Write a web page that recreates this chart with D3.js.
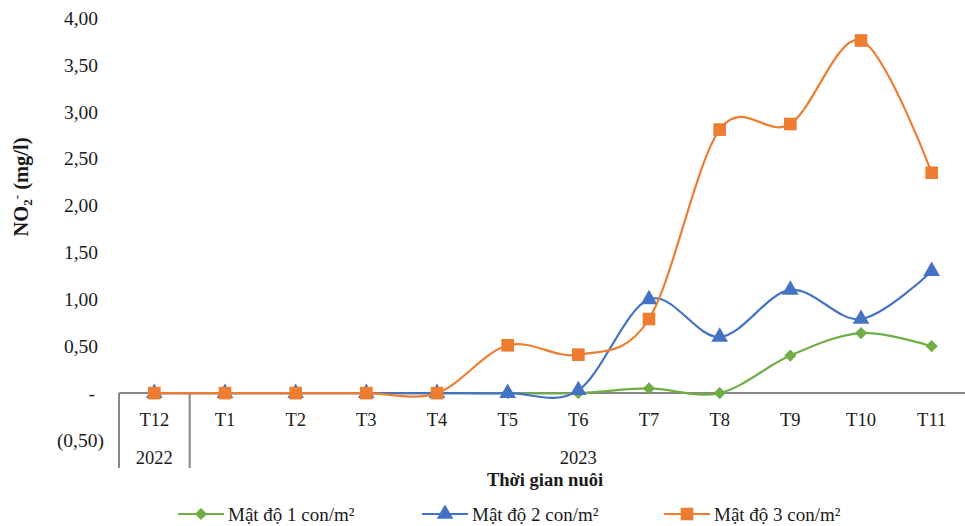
<!DOCTYPE html>
<html>
<head>
<meta charset="utf-8">
<script src="https://cdn.jsdelivr.net/npm/d3@7"></script>
<style>
  html, body { margin: 0; padding: 0; background: #fff; }
  svg, svg text { font-family: "Liberation Serif", "Times New Roman", "DejaVu Serif", serif; }
</style>
</head>
<body>
<svg id="chart" width="965" height="526"></svg>
<script>
// Months of the rearing period (Dec 2022 – Nov 2023)
const months = ["T12", "T1", "T2", "T3", "T4", "T5", "T6", "T7", "T8", "T9", "T10", "T11"];
const years = [
  { label: "2022", from: 0, to: 0 },
  { label: "2023", from: 1, to: 11 }
];

// NO2- concentration (mg/l) per stocking density
const density1 = [0, 0, 0, 0, 0, 0, 0, 0.05, 0, 0.40, 0.64, 0.50];
const density2 = [0, 0, 0, 0, 0, 0, 0.03, 1.00, 0.60, 1.10, 0.79, 1.30];
const density3 = [0, 0, 0, 0, 0, 0.51, 0.41, 0.79, 2.81, 2.87, 3.76, 2.35];

const seriesNames = ["Mật độ 1 con/m²", "Mật độ 2 con/m²", "Mật độ 3 con/m²"];
const seriesColors = ["#70AD47", "#4472C4", "#ED7D31"];
const seriesShapes = [d3.symbolDiamond2, d3.symbolTriangle, d3.symbolSquare];
const seriesSizes = [95, 120, 160];

const yTicks = [-0.5, 0, 0.5, 1, 1.5, 2, 2.5, 3, 3.5, 4];

const svg = d3.select("#chart");

const x = d3.scaleBand().domain(months).range([119, 967]);
const y = d3.scaleLinear().domain([-0.5, 4]).range([440, 18]);

const axisColor = "#878787";
const textColor = "#1a1a1a";

// Y tick labels in accounting style: "-" for zero, parentheses for negatives
const fmt = v => v.toFixed(2).replace(".", ",");
const yLab = svg.append("g").attr("font-size", 19.5).attr("fill", textColor);
yTicks.forEach(v => {
  let txt, xx;
  if (v === 0) { txt = "-"; xx = 95; }
  else if (v < 0) { txt = "(" + fmt(-v) + ")"; xx = 104; }
  else { txt = fmt(v); xx = 98; }
  yLab.append("text")
    .attr("x", xx).attr("y", y(v)).attr("dy", "0.35em")
    .attr("text-anchor", "end").text(txt);
});

// Category axis at zero
svg.append("line")
  .attr("x1", x.range()[0]).attr("x2", 965)
  .attr("y1", y(0)).attr("y2", y(0))
  .attr("stroke", axisColor).attr("stroke-width", 2);

// Year group separators
[x(months[0]), x(months[1])].forEach(sx => {
  svg.append("line")
    .attr("x1", sx).attr("x2", sx)
    .attr("y1", y(0)).attr("y2", 468)
    .attr("stroke", axisColor).attr("stroke-width", 2);
});

// Month labels
svg.append("g").attr("font-size", 18.5).attr("fill", textColor)
  .selectAll("text").data(months).join("text")
  .attr("x", d => x(d) + x.bandwidth() / 2)
  .attr("y", 426)
  .attr("text-anchor", "middle")
  .text(d => d);

// Year labels
svg.append("g").attr("font-size", 18.5).attr("fill", textColor)
  .selectAll("text").data(years).join("text")
  .attr("x", d => (x(months[d.from]) + x(months[d.to]) + x.bandwidth()) / 2)
  .attr("y", 464)
  .attr("text-anchor", "middle")
  .text(d => d.label);

// Axis titles
svg.append("text")
  .attr("x", 545).attr("y", 486)
  .attr("text-anchor", "middle")
  .attr("font-size", 18.5).attr("font-weight", "bold").attr("fill", textColor)
  .text("Thời gian nuôi");

const yt = svg.append("text")
  .attr("transform", "translate(28,187) rotate(-90)")
  .attr("text-anchor", "middle").attr("fill", textColor)
  .attr("font-size", 20.5).attr("font-weight", "bold");
yt.append("tspan").text("NO");
yt.append("tspan").attr("font-size", 13).attr("dy", 4).text("2");
yt.append("tspan").attr("font-size", 13).attr("dy", -11).text("-");
yt.append("tspan").attr("dy", 7).text(" (mg/l)");

// Series
const allSeries = [density1, density2, density3];
const line = d3.line()
  .x((d, i) => x(months[i]) + x.bandwidth() / 2)
  .y(d => y(d))
  .curve(d3.curveCardinal.tension(0));

allSeries.forEach((vals, si) => {
  const g = svg.append("g");
  g.append("path")
    .attr("d", line(vals))
    .attr("fill", "none")
    .attr("stroke", seriesColors[si])
    .attr("stroke-width", 2.2);
  g.selectAll("path.m").data(vals).join("path")
    .attr("class", "m")
    .attr("transform", (d, i) => `translate(${x(months[i]) + x.bandwidth() / 2},${y(d)})`)
    .attr("d", d3.symbol().type(seriesShapes[si]).size(seriesSizes[si]))
    .attr("fill", seriesColors[si]);
});

// Legend
const legendX = [178, 422, 664];
const legend = svg.append("g");
seriesNames.forEach((name, si) => {
  const lx = legendX[si];
  const ly = 514;
  legend.append("line")
    .attr("x1", lx).attr("x2", lx + 46)
    .attr("y1", ly).attr("y2", ly)
    .attr("stroke", seriesColors[si]).attr("stroke-width", 2.2);
  legend.append("path")
    .attr("transform", `translate(${lx + 23},${ly})`)
    .attr("d", d3.symbol().type(seriesShapes[si]).size(seriesSizes[si]))
    .attr("fill", seriesColors[si]);
  legend.append("text")
    .attr("x", lx + 50).attr("y", ly).attr("dy", "0.35em")
    .attr("font-size", 19).attr("fill", textColor)
    .text(name);
});
</script>
</body>
</html>
